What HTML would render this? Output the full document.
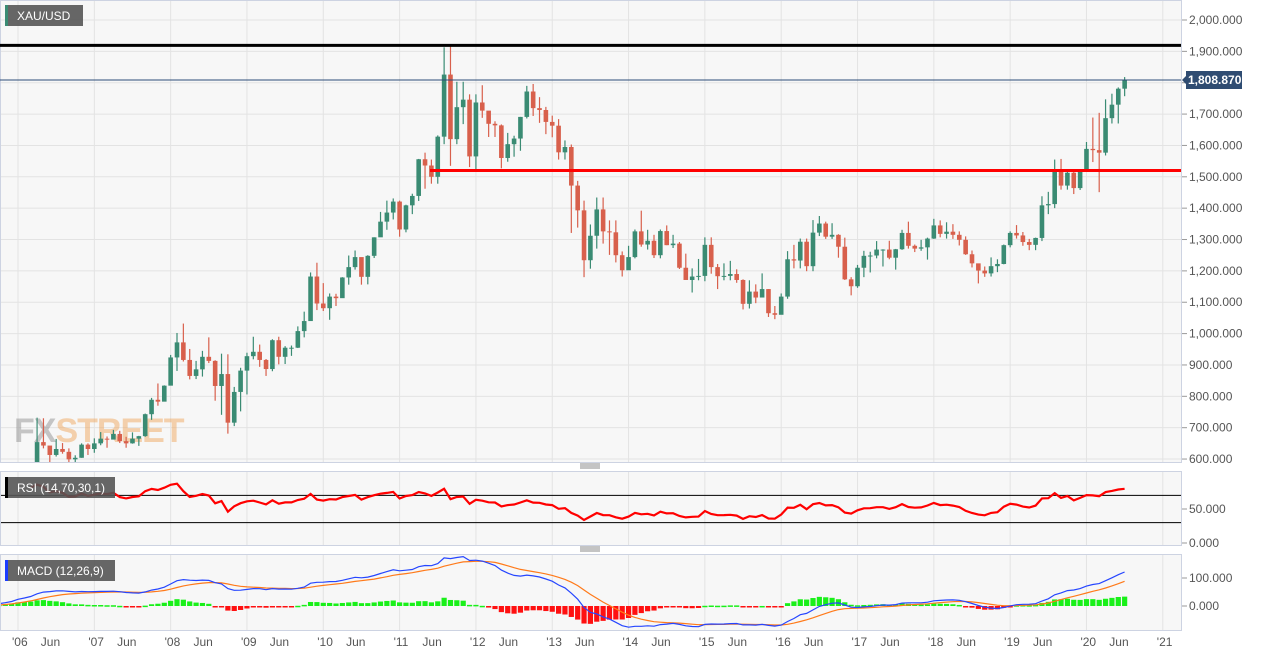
<!DOCTYPE html>
<html><head><meta charset="utf-8"><style>
html,body{margin:0;padding:0;background:#fff;}
svg{display:block;font-family:"Liberation Sans",sans-serif;}
</style></head><body>
<svg id="c" width="1269" height="655" xmlns="http://www.w3.org/2000/svg"></svg>
<script>
// Monthly XAU/USD data, Jan 2005 .. Jul 2020 (2005 used as indicator warm-up)
const startYear = 2005;
const closes = [422,434,429,435,417,437,429,433,473,470,495,513,
569,556,582,654,643,613,632,623,599,604,646,632,
650,665,662,680,657,650,665,673,743,789,783,834,
924,972,916,865,886,926,913,833,871,716,814,882,
928,942,916,887,979,926,955,955,1008,1040,1182,1096,
1081,1118,1113,1179,1212,1244,1181,1248,1307,1357,1386,1421,
1332,1409,1439,1556,1536,1500,1628,1826,1620,1722,1746,1565,
1737,1711,1669,1664,1560,1604,1622,1691,1772,1719,1713,1675,
1663,1578,1595,1472,1393,1234,1312,1396,1326,1323,1250,1202,
1244,1326,1284,1296,1250,1327,1282,1287,1210,1171,1182,1184,
1283,1212,1183,1184,1190,1171,1095,1134,1115,1142,1065,1060,
1118,1237,1233,1293,1215,1322,1351,1309,1315,1277,1173,1151,
1210,1248,1249,1268,1268,1242,1269,1321,1280,1271,1275,1303,
1345,1318,1325,1315,1299,1253,1224,1201,1192,1215,1222,1282,
1321,1313,1292,1283,1305,1409,1413,1520,1472,1513,1464,1517,
1589,1585,1577,1687,1730,1781,1808.87];
const highs = [430,440,446,437,435,443,438,447,474,480,498,540,
575,574,589,732,730,640,664,651,634,612,650,650,
666,686,672,693,690,671,685,674,745,795,841,835,
932,1002,1032,951,913,945,988,915,936,934,830,891,
939,990,965,919,982,990,960,962,1023,1070,1195,1226,
1161,1128,1127,1180,1249,1265,1236,1250,1307,1388,1424,1431,
1424,1411,1446,1557,1577,1555,1632,1913,1921,1803,1803,1763,
1763,1792,1696,1677,1667,1640,1631,1691,1790,1796,1754,1723,
1695,1684,1616,1603,1487,1424,1348,1434,1434,1361,1361,1262,
1280,1332,1392,1331,1315,1332,1345,1315,1292,1255,1208,1238,
1307,1307,1222,1224,1232,1205,1173,1170,1157,1192,1142,1088,
1128,1263,1283,1303,1303,1362,1375,1357,1352,1317,1306,1180,
1219,1264,1261,1295,1269,1296,1270,1331,1357,1284,1299,1306,
1366,1361,1355,1349,1326,1310,1265,1222,1214,1243,1237,1284,
1326,1346,1324,1302,1306,1438,1452,1555,1557,1518,1516,1524,
1611,1689,1704,1747,1765,1785,1818];
const lows = [414,411,423,422,414,415,417,428,432,456,460,488,
513,538,540,578,634,543,608,617,574,560,604,613,
620,644,636,673,651,636,649,642,671,725,770,785,
845,881,911,854,855,863,906,786,741,681,705,752,
806,918,894,865,880,902,903,929,954,988,1043,1075,
1072,1044,1088,1115,1156,1204,1156,1157,1241,1315,1331,1364,
1309,1323,1381,1423,1462,1478,1478,1604,1535,1604,1668,1531,
1523,1688,1627,1627,1527,1548,1564,1583,1686,1694,1672,1636,
1626,1555,1555,1321,1338,1180,1207,1271,1287,1251,1227,1182,
1203,1240,1277,1268,1241,1240,1282,1273,1206,1183,1131,1170,
1167,1191,1142,1170,1170,1162,1077,1080,1097,1137,1053,1046,
1071,1111,1208,1208,1199,1199,1311,1302,1302,1242,1171,1122,
1146,1180,1195,1240,1214,1237,1204,1267,1271,1260,1264,1236,
1302,1307,1303,1302,1281,1251,1211,1160,1181,1182,1196,1221,
1275,1303,1280,1266,1266,1295,1381,1400,1459,1459,1445,1458,
1517,1547,1451,1568,1670,1670,1757];
const priceTicks = [2000,1900,1800,1700,1600,1500,1400,1300,1200,1100,1000,900,800,700,600];
const yearLabels = ["'06","'07","'08","'09","'10","'11","'12","'13","'14","'15","'16","'17","'18","'19","'20","'21"];
const resistance = 1919;
const support = 1520;
const rsiTicks = [50,0];
const macdTicks = [100,0];

const NS="http://www.w3.org/2000/svg";
const svg=document.getElementById('c');
function el(tag,attrs,parent){const e=document.createElementNS(NS,tag);for(const k in attrs)e.setAttribute(k,attrs[k]);(parent||svg).appendChild(e);return e;}

// axes
const X0=18, MW=6.36; // Jan 2006 at X0
function xm(i){return X0+(i-12)*MW;} // i index from Jan 2005
function yP(p){return 20+(2000-p)*0.3136;}
function yR(v){return 543-v*0.68;}
function yM(v){return 606-v*0.28;}
const PR=1181;

// defs clip
const defs=el('defs',{});
[['cm',0,462],['cr',471,545],['cd',554,630]].forEach(([id,a,b])=>{const cp=el('clipPath',{id:id},defs);el('rect',{x:1,y:a,width:PR-1,height:b-a},cp);});

// panels
const panels=[[0,462,'main-panel'],[471,545,'rsi-panel'],[554,630,'macd-panel']];
panels.forEach(([a,b,n])=>{const r=el('rect',{x:0.5,y:a+0.5,width:PR,height:b-a,fill:'#f7f7f7',stroke:'#cdd3e2'});

});

// vertical grid + year labels
yearLabels.forEach((lab,k)=>{const x=X0+k*12*MW;
 panels.forEach(([a,b])=>el('line',{x1:x,x2:x,y1:a+1,y2:b,stroke:'#e3e3e3'}));
 const t=el('text',{x:x-6,y:646,'font-size':12,fill:'#555'});t.textContent=lab;
 
 
 if(k<15){const t2=el('text',{x:x+5*MW-9,y:646,'font-size':12,fill:'#555'});t2.textContent='Jun';
 
 }
});

// price grid + labels
priceTicks.forEach(p=>{const y=yP(p);
 el('line',{x1:1,x2:PR,y1:y,y2:y,stroke:'#e3e3e3'});
 el('line',{x1:PR+1,x2:PR+6,y1:y,y2:y,stroke:'#999'});
 const t=el('text',{x:1189,y:y+4,'font-size':12,fill:'#555'});t.textContent=p.toLocaleString('en-US')+'.000';
 
 
});

// watermark
const wm=el('text',{x:14,y:442,'font-size':34,'font-weight':'bold',opacity:0.45,'letter-spacing':'-1'});
wm.innerHTML='<tspan fill="#888">FX</tspan><tspan fill="#f0a050">STREET</tspan>';



// candles
const gc=el('g',{'clip-path':'url(#cm)'});
for(let i=0;i<closes.length;i++){
 const o=i>0?closes[i-1]:closes[0], c=closes[i], x=xm(i);
 const col=c>=o?'#3a8b73':'#d8604c';
 const w=el('line',{x1:x,x2:x,y1:yP(highs[i]),y2:yP(lows[i]),stroke:col,'stroke-width':1.2},gc);
 
 
 const top=yP(Math.max(o,c)),bot=yP(Math.min(o,c));
 const b=el('rect',{x:x-2.3,y:top,width:4.6,height:Math.max(1,bot-top),fill:col},gc);
 
 
}

// horizontal levels
const rl=el('line',{x1:0,x2:PR,y1:yP(resistance),y2:yP(resistance),stroke:'#000','stroke-width':3});


const sl=el('line',{x1:430,x2:PR,y1:yP(support),y2:yP(support),stroke:'#ff0000','stroke-width':3});


const last=closes[closes.length-1];
const cl=el('line',{x1:0,x2:PR,y1:yP(last),y2:yP(last),stroke:'#2d4d78','stroke-width':1});


const pb=el('path',{d:`M${PR+1},${yP(last)} l4,-4 v-5 h56 v18 h-56 v-5 z`,fill:'#2f4c72'});


const pt=el('text',{x:1188,y:yP(last)+4,'font-size':12,'font-weight':'bold',fill:'#fff'});pt.textContent=last.toLocaleString('en-US',{minimumFractionDigits:3});



// RSI (Wilder 14)
const rsi=[];let ag=0,al=0;
for(let i=1;i<closes.length;i++){const d=closes[i]-closes[i-1];const g=Math.max(d,0),l=Math.max(-d,0);
 if(i<=14){ag+=g/14;al+=l/14;}else{ag=(ag*13+g)/14;al=(al*13+l)/14;}
 if(i>=14)rsi[i]=al===0?100:100-100/(1+ag/al);}
[70,30].forEach(v=>{const l=el('line',{x1:1,x2:PR,y1:yR(v),y2:yR(v),stroke:'#000'});
 
 });
rsiTicks.forEach(v=>{el('line',{x1:PR+1,x2:PR+6,y1:yR(v),y2:yR(v),stroke:'#999'});
 const t=el('text',{x:1189,y:yR(v)+4,'font-size':12,fill:'#555'});t.textContent=v.toFixed(3);
 
 });
let d='';rsi.forEach((v,i)=>{if(v!==undefined)d+=(d?'L':'M')+xm(i).toFixed(1)+','+yR(v).toFixed(1);});
const rp=el('path',{d:d,fill:'none',stroke:'#ff0000','stroke-width':2.2,'clip-path':'url(#cr)'});



// MACD
function ema(arr,n){const k=2/(n+1);const out=[];arr.forEach((v,i)=>{out[i]=i?v*k+out[i-1]*(1-k):v;});return out;}
const e12=ema(closes,12),e26=ema(closes,26);
const macd=closes.map((_,i)=>e12[i]-e26[i]);
const sig=ema(macd,9);
const gm=el('g',{'clip-path':'url(#cd)'});
macd.forEach((m,i)=>{const h=m-sig[i];const y0=yM(0),y1=yM(h);
 const r=el('rect',{x:xm(i)-2.6,y:Math.min(y0,y1),width:5.2,height:Math.max(1.5,Math.abs(y1-y0)),fill:h>=0?'#19f019':'#ff1010'},gm);
 
 });
function linePath(arr){return arr.map((v,i)=>(i?'L':'M')+xm(i).toFixed(1)+','+yM(v).toFixed(1)).join('');}
const sp=el('path',{d:linePath(sig),fill:'none',stroke:'#ff7a1a','stroke-width':1.2},gm);


const mp=el('path',{d:linePath(macd),fill:'none',stroke:'#2646ff','stroke-width':1.2},gm);


macdTicks.forEach(v=>{el('line',{x1:PR+1,x2:PR+6,y1:yM(v),y2:yM(v),stroke:'#999'});
 const t=el('text',{x:1189,y:yM(v)+4,'font-size':12,fill:'#555'});t.textContent=v.toFixed(3);
 
 });

// panel labels
function label(x,y,w,txt,accent,name){const g=el('g',{});
 
 
 el('rect',{x:x,y:y,width:w,height:21,fill:'#555',opacity:0.9},g);
 el('rect',{x:x,y:y,width:3,height:21,fill:accent},g);
 const t=el('text',{x:x+12,y:y+15,'font-size':12,fill:'#fff'},g);t.textContent=txt;}
label(5,5,78,'XAU/USD','#3a8b73','symbol-label');
label(5,477,110,'RSI (14,70,30,1)','#000','rsi-label');
label(5,560,110,'MACD (12,26,9)','#1b3cff','macd-label');

// resize handles
[466,549].forEach(y=>{const g=el('g',{});
 
 
 [-2,0,2].forEach(o=>el('line',{x1:580,x2:600,y1:y+o,y2:y+o,stroke:'#888'},g));});
</script>
</body></html>
